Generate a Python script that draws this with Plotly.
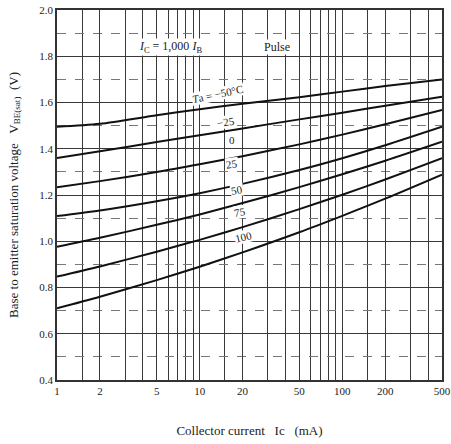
import plotly.graph_objects as go
import numpy as np

# Data
ic_ma = [1, 2, 5, 10, 20, 50, 100, 200, 500]
temps = ["-50", "-25", "0", "25", "50", "75", "100"]
vbe_m50 = [1.495, 1.508, 1.545, 1.571, 1.595, 1.623, 1.647, 1.671, 1.70]
vbe_m25 = [1.36, 1.389, 1.429, 1.458, 1.488, 1.527, 1.556, 1.586, 1.625]
vbe_0 = [1.233, 1.260, 1.299, 1.333, 1.368, 1.419, 1.461, 1.506, 1.568]
vbe_25 = [1.109, 1.133, 1.173, 1.208, 1.248, 1.308, 1.359, 1.415, 1.495]
vbe_50 = [0.976, 1.015, 1.071, 1.116, 1.165, 1.234, 1.290, 1.348, 1.430]
vbe_75 = [0.847, 0.891, 0.955, 1.006, 1.061, 1.139, 1.201, 1.267, 1.359]
vbe_100 = [0.71, 0.760, 0.832, 0.89, 0.952, 1.039, 1.11, 1.184, 1.288]
series = [vbe_m50, vbe_m25, vbe_0, vbe_25, vbe_50, vbe_75, vbe_100]

x_ticks = [1, 2, 5, 10, 20, 50, 100, 200, 500]
x_tick_text = ["1", "2", "5", "10", "20", "50", "100", "200", "500"]
x_minor_grid = [1.5, 3, 4, 6, 7, 8, 9, 15, 30, 40, 60, 70, 80, 90, 150, 300, 400]
y_ticks = [0.4, 0.6, 0.8, 1.0, 1.2, 1.4, 1.6, 1.8, 2.0]

SERIF = "Liberation Serif, Times New Roman, serif"
fig = go.Figure()
for t, v in zip(temps, series):
    fig.add_trace(go.Scatter(x=ic_ma, y=v, mode="lines", name=t,
                             line=dict(color="#111", width=2, shape="spline", smoothing=0.8),
                             showlegend=False))

# label positions in paper coords (px -> paper)
def P(px, py):
    return (px - 57) / 385, (380 - py) / 370

labels = [
    ("<i>I</i><sub>C</sub> = 1,000 <i>I</i><sub>B</sub>", 138, 38, 0, 12),
    ("Pulse", 277, 39, 0, 12),
    ("<i>T</i>a = −50°C", 218, 82, -12, 11),
    ("−25", 226, 114, -8, 11),
    ("0", 232, 140, 0, 11),
    ("25", 232, 164, -8, 11),
    ("50", 237, 190, -10, 11),
    ("75", 240, 212, -10, 11),
    ("100", 243, 237, -14, 11),
]
for txt, px, py, ang, sz in labels:
    xp, yp = P(px, py)
    fig.add_annotation(x=xp, y=yp, xref="paper", yref="paper", text=txt, showarrow=False,
                       textangle=ang, font=dict(family=SERIF, size=sz, color="#222"),
                       bgcolor="white", borderpad=0)

fig.update_xaxes(type="log", range=[0, np.log10(500)], automargin=False,
                 tickvals=x_ticks, ticktext=x_tick_text,
                 showgrid=True, gridcolor="#3a3a3a", gridwidth=1.2,
                 minor=dict(tickvals=x_minor_grid, showgrid=True, gridcolor="#3a3a3a", gridwidth=1.2, ticks=""),
                 showline=True, linecolor="#333", linewidth=1.5, mirror=True,
                 ticks="", tickfont=dict(family=SERIF, size=11, color="#222"),
                 title=dict(text="Collector current   Ic   (mA)", font=dict(family=SERIF, size=13, color="#222"),
                            standoff=30),
                 zeroline=False)
fig.update_yaxes(range=[0.4, 2.0], tickvals=y_ticks, ticktext=[f"{v:.1f}" for v in y_ticks],
                 automargin=False,
                 showgrid=True, gridcolor="#3a3a3a", gridwidth=1.2,
                 minor=dict(dtick=0.1, showgrid=True, gridcolor="#777", griddash="dash", gridwidth=1, ticks=""),
                 showline=True, linecolor="#333", linewidth=1.5, mirror=True,
                 ticks="", tickfont=dict(family=SERIF, size=11, color="#222"),
                 title=dict(text="Base to emitter saturation voltage   V<sub>BE(sat)</sub>  (V)",
                            font=dict(family=SERIF, size=13, color="#222"), standoff=18),
                 zeroline=False)

fig.update_layout(width=451, height=444, margin=dict(l=57, r=9, t=10, b=64),
                  plot_bgcolor="white", paper_bgcolor="white")
fig.write_html("out.html")
